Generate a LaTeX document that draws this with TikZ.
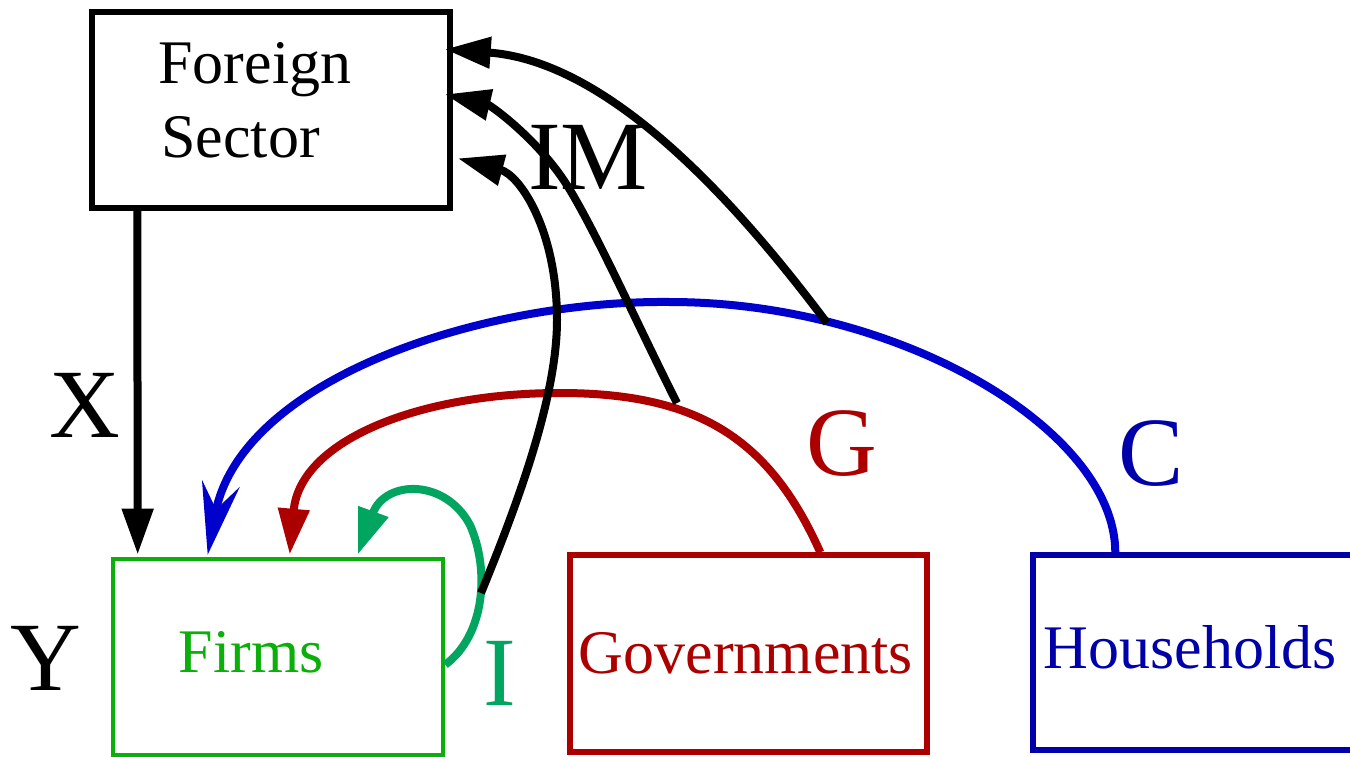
\documentclass[tikz,border=0pt]{standalone}
\usepackage{fontspec}
\setmainfont{Liberation Serif}
\usetikzlibrary{arrows.meta}
\definecolor{cblue}{RGB}{0,0,205}
\definecolor{cbluet}{RGB}{0,0,170}
\definecolor{cred}{RGB}{172,0,0}
\definecolor{cgreen}{RGB}{10,175,10}
\definecolor{cteal}{RGB}{0,165,95}
\begin{document}
\begin{tikzpicture}[x=0.5pt,y=-0.5pt,
  box/.style={draw,line width=2.7pt,inner sep=0pt,rectangle},
  boxtext/.style={font=\fontsize{31}{37}\selectfont,inner sep=0pt,anchor=base},
  biglbl/.style={font=\fontsize{49}{55}\selectfont,inner sep=0pt},
  flow/.style={line width=4pt},
  tri/.style={-{Triangle[length=23pt,width=15pt]}},
  stl/.style={-{Stealth[length=36pt,width=19pt,inset=13pt]}},
]
\clip (0,0) rectangle (1350,756);
\fill[white] (0,0) rectangle (1350,756);

% boxes
\node[box,minimum width=179pt,minimum height=98pt] (fs) at (271,110) {};
\node[boxtext,anchor=base west] (fsa) at (158,83) {Foreign};
\node[boxtext,anchor=base west] (fsb) at (161,157) {Sector};

\node[box,draw=cgreen,line width=2.3pt,minimum width=165pt,minimum height=98pt] (firm) at (278,657) {};
\node[boxtext,text=cgreen] (firmt) at (251,672) {Firms};

\node[box,draw=cred,minimum width=178.5pt,minimum height=98.5pt] (gov) at (748.5,653.5) {};
\node[boxtext,text=cred] (govt) at (746,673) {Governments};

\node[box,draw=cbluet,minimum width=168.5pt,minimum height=97.5pt] (hh) at (1201.5,652.5) {};
\node[boxtext,text=cbluet] (hht) at (1190,668) {Households};

% labels
\node[biglbl] (lx) at (85,405) {X};
\node[biglbl] (ly) at (46,658) {Y};
\node[biglbl] (lim) at (588,157) {IM};
\node[biglbl,text=cred] (lg) at (842,444) {G};
\node[biglbl,text=cbluet] (lc) at (1151,454) {C};
\node[biglbl,text=cteal] (li) at (500,673) {I};

% X
\draw[flow,tri] ([xshift=24pt]fs.south west) -- ([xshift=13.5pt,yshift=1pt]firm.north west);

% C (blue)
\draw[flow,cblue,stl] ([xshift=42.5pt]hh.north west)
  .. controls (1115,430) and (900,302) .. (670,302)
  .. controls (480,300) and (240,380) .. ([xshift=48.5pt,yshift=1pt]firm.north west);

% G (red)
\draw[flow,cred,tri] ([xshift=126.5pt]gov.north west)
  .. controls (770,440) and (700,393) .. (560,393)
  .. controls (420,393) and (300,440) .. ([xshift=89.5pt,yshift=1pt]firm.north west);

% I (green loop)
\draw[flow,cteal,tri] ([yshift=-54pt]firm.north east)
  .. controls (485,635) and (490,570) .. (470,525)
  .. controls (445,478) and (385,480) .. ([xshift=123.5pt,yshift=1pt]firm.north west);

% IM arrows
\coordinate (pc) at (827,323);
\coordinate (pg) at (677,403);
\coordinate (pi) at (481,593);
\draw[flow,tri] (pc) .. controls (705,160) and (590,60) .. ([xshift=-4pt,yshift=-20pt]fs.north east);
\draw[flow,tri] (pg) .. controls (640,330) and (600,240) .. (570,190)
  .. controls (540,140) and (490,105) .. ([xshift=-4pt,yshift=-42.5pt]fs.north east);
\draw[flow,tri] (pi) .. controls (515,510) and (557,400) .. (557,320)
  .. controls (557,230) and (520,175) .. ([xshift=2.5pt,yshift=-74.5pt]fs.north east);
\end{tikzpicture}
\end{document}
